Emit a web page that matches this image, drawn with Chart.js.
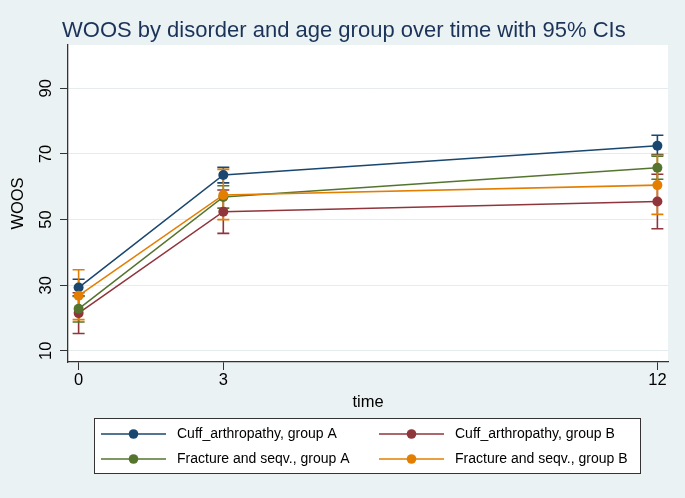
<!DOCTYPE html>
<html>
<head>
<meta charset="utf-8">
<script src="https://cdn.jsdelivr.net/npm/chart.js@4.4.1/dist/chart.umd.min.js"></script>
<style>
  html,body{margin:0;padding:0;background:#eaf2f3;}
  #wrap{width:685px;height:498px;position:relative;}
</style>
</head>
<body>
<div id="wrap"><canvas id="woos-chart" width="685" height="498"></canvas></div>
<script>
// data
const timePoints = [0, 3, 12];
const xTicks = [0, 3, 12];
const yTicks = [10, 30, 50, 70, 90];
const seriesNames = [
  "Cuff_arthropathy, group A",
  "Cuff_arthropathy, group B",
  "Fracture and seqv., group A",
  "Fracture and seqv., group B"
];
const cuffA     = [29.3, 63.6, 72.5];
const cuffALow  = [26.8, 61.2, 69.8];
const cuffAHigh = [31.8, 65.9, 75.7];
const cuffB     = [21.5, 52.4, 55.5];
const cuffBLow  = [15.3, 45.8, 47.2];
const cuffBHigh = [27.7, 59.0, 63.8];
const fracA     = [22.8, 56.9, 65.8];
const fracALow  = [18.8, 53.5, 62.3];
const fracAHigh = [26.6, 60.3, 69.3];
const fracB     = [26.8, 57.5, 60.5];
const fracBLow  = [19.5, 50.0, 51.6];
const fracBHigh = [34.7, 65.3, 69.6];

const colors = ['#1a476f', '#90353b', '#55752f', '#e37e00'];
const FONT = '"Liberation Sans", Arial, Helvetica, sans-serif';

function mk(i, vals, lo, hi){
  return {
    label: seriesNames[i],
    data: timePoints.map((t,k)=>({x:t, y:vals[k]})),
    ciLow: lo, ciHigh: hi,
    borderColor: colors[i],
    backgroundColor: colors[i],
    borderWidth: 1.6,
    pointRadius: 5,
    pointHoverRadius: 5,
    pointBorderWidth: 0,
    showLine: true,
    tension: 0,
    order: 4 - i
  };
}

// background, white plot area, error bars
const frame = {
  id:'frame',
  beforeDraw(chart){
    const {ctx, chartArea:a} = chart;
    ctx.save();
    ctx.fillStyle = '#eaf2f3';
    ctx.fillRect(0,0,chart.width,chart.height);
    ctx.fillStyle = '#ffffff';
    ctx.fillRect(a.left, a.top, a.right-a.left, a.bottom-a.top);
    ctx.restore();
  }
};

const errorBars = {
  id:'errorBars',
  beforeDatasetsDraw(chart){
    const {ctx} = chart;
    const xs = chart.scales.x, ys = chart.scales.y;
    chart.data.datasets.forEach(ds=>{
      ctx.save();
      ctx.strokeStyle = ds.borderColor;
      ctx.lineWidth = 1.6;
      ds.data.forEach((p,k)=>{
        const px = xs.getPixelForValue(p.x);
        const y1 = ys.getPixelForValue(ds.ciLow[k]);
        const y2 = ys.getPixelForValue(ds.ciHigh[k]);
        ctx.beginPath();
        ctx.moveTo(px, y1); ctx.lineTo(px, y2);
        ctx.moveTo(px-6, y1); ctx.lineTo(px+6, y1);
        ctx.moveTo(px-6, y2); ctx.lineTo(px+6, y2);
        ctx.stroke();
      });
      ctx.restore();
    });
  }
};

// title + boxed legend like the Stata output
const extras = {
  id:'extras',
  afterDraw(chart){
    const {ctx} = chart;
    ctx.save();
    ctx.fillStyle = '#1b3358';
    ctx.font = '22px ' + FONT;
    ctx.textBaseline = 'alphabetic';
    ctx.textAlign = 'left';
    ctx.fillText('WOOS by disorder and age group over time with 95% CIs', 62, 37);

    ctx.fillStyle = '#ffffff';
    ctx.fillRect(94.5, 418.5, 546, 55);
    ctx.strokeStyle = '#333';
    ctx.lineWidth = 1;
    ctx.strokeRect(94.5, 418.5, 546, 55);

    const colX = [101, 379], rowY = [434, 459];
    const order = [0, 1, 2, 3];
    order.forEach((di, n)=>{
      const ds = chart.data.datasets[di];
      const x0 = colX[n % 2], y0 = rowY[Math.floor(n / 2)];
      ctx.strokeStyle = ds.borderColor;
      ctx.lineWidth = 1.6;
      ctx.beginPath(); ctx.moveTo(x0, y0); ctx.lineTo(x0+65, y0); ctx.stroke();
      ctx.fillStyle = ds.borderColor;
      ctx.beginPath(); ctx.arc(x0+32.5, y0, 4.8, 0, Math.PI*2); ctx.fill();
      ctx.fillStyle = '#000';
      ctx.font = '14px ' + FONT;
      ctx.textBaseline = 'middle';
      ctx.fillText(ds.label, x0+76, y0+0.5);
    });
    ctx.restore();
  }
};

new Chart(document.getElementById('woos-chart'), {
  type: 'scatter',
  data: {
    datasets: [
      mk(0, cuffA, cuffALow, cuffAHigh),
      mk(1, cuffB, cuffBLow, cuffBHigh),
      mk(2, fracA, fracALow, fracAHigh),
      mk(3, fracB, fracBLow, fracBHigh)
    ]
  },
  options: {
    responsive: false,
    animation: false,
    devicePixelRatio: 1,
    layout: { padding: { top: 45, right: 17, bottom: 86, left: 0 } },
    plugins: { legend: { display: false }, tooltip: { enabled: false } },
    scales: {
      x: {
        type: 'linear',
        min: -0.22, max: 12.22,
        afterBuildTicks: s => { s.ticks = xTicks.map(v => ({value: v})); },
        afterFit: s => { s.height = 50; },
        grid: { drawOnChartArea: false, tickLength: 8, tickColor: '#333', tickWidth: 1 },
        border: { color: '#333', width: 1.3 },
        ticks: { color: '#000', font: { family: FONT, size: 16.5 }, padding: 1, maxRotation: 0, autoSkip: false },
        title: { display: true, text: 'time', color: '#000', font: { family: FONT, size: 16.5 }, padding: { top: 0, bottom: 0 } }
      },
      y: {
        type: 'linear',
        min: 6.6, max: 103.2,
        afterBuildTicks: s => { s.ticks = yTicks.map(v => ({value: v})); },
        afterFit: s => { s.width = 68; },
        grid: { color: '#e4ecee', lineWidth: 1, tickLength: 8, tickColor: '#333', tickWidth: 1 },
        border: { color: '#333', width: 1.3 },
        ticks: { color: '#000', font: { family: FONT, size: 16.5 }, minRotation: 90, maxRotation: 90, crossAlign: 'center', padding: 4, autoSkip: false },
        title: { display: true, text: 'WOOS', color: '#000', font: { family: FONT, size: 16.5 }, padding: { top: 9, bottom: 0 } }
      }
    }
  },
  plugins: [frame, errorBars, extras]
});
</script>
</body>
</html>
